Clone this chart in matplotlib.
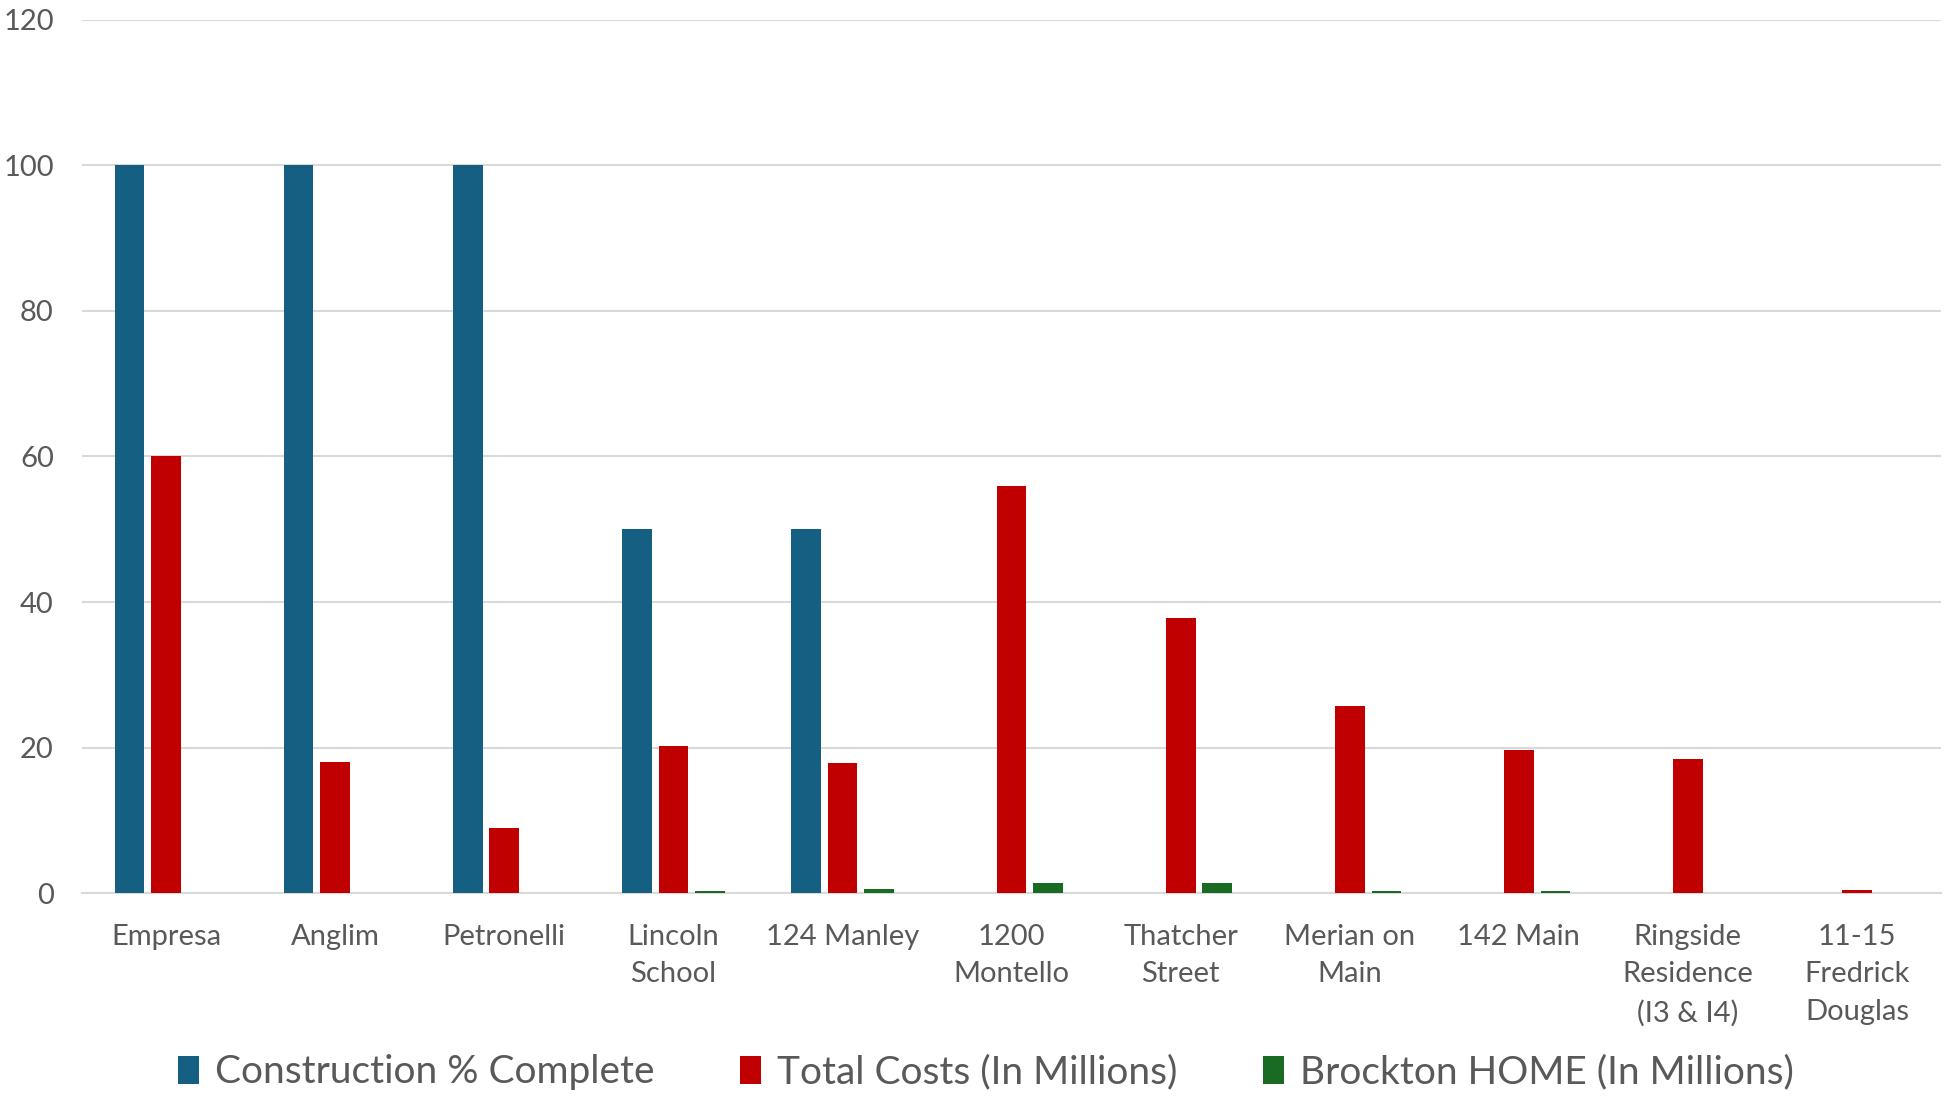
import numpy as np
import matplotlib.pyplot as plt

projects = ['Empresa', 'Anglim', 'Petronelli', 'Lincoln\nSchool', '124 Manley',
            '1200\nMontello', 'Thatcher\nStreet', 'Merian on\nMain', '142 Main',
            'Ringside\nResidence\n(I3 & I4)', '11-15\nFredrick\nDouglas']
construction_pct = [100, 100, 100, 50, 50, 0, 0, 0, 0, 0, 0]
total_costs = [60, 18, 8.9, 20.2, 17.9, 55.9, 37.8, 25.7, 19.7, 18.4, 0.4]
brockton_home = [0, 0, 0, 0.25, 0.65, 1.45, 1.45, 0.3, 0.3, 0, 0]

plt.rcParams['font.family'] = ['Lato', 'DejaVu Sans']
grey = '#595959'

fig = plt.figure(figsize=(19.44, 11.11), dpi=100)
ax = fig.add_axes([0.042, 0.196, 0.9567, 0.7864])

x = np.arange(len(projects))
w = 0.176
off = 0.217
ax.bar(x - off, construction_pct, w, color='#156082', label='Construction % Complete', zorder=3)
ax.bar(x, total_costs, w, color='#C00000', label='Total Costs (In Millions)', zorder=3)
ax.bar(x + off, brockton_home, w, color='#196B24', label='Brockton HOME (In Millions)', zorder=3)

ax.set_xlim(-0.5, len(projects) - 0.5)
ax.set_ylim(0, 120)
ax.set_yticks(range(0, 121, 20))
ax.yaxis.grid(True, color='#d9d9d9', linewidth=1.5, zorder=0)
ax.set_axisbelow(True)
for s in ['top', 'right', 'left']:
    ax.spines[s].set_visible(False)
ax.spines['bottom'].set_color('#d9d9d9')
ax.spines['bottom'].set_linewidth(1.5)
ax.tick_params(axis='both', length=0, colors=grey, labelsize=21)
ax.tick_params(axis='y', pad=20)
ax.tick_params(axis='x', pad=22)
ax.set_xticks(x)
ax.set_xticklabels(projects, linespacing=1.55)

fig.legend(loc='lower center', bbox_to_anchor=(0.507, -0.013), ncol=3, frameon=False,
           fontsize=28, labelcolor=grey, handlelength=0.55, handleheight=0.75,
           handletextpad=0.4, columnspacing=2.2)

fig.savefig('out.png', dpi=100)
